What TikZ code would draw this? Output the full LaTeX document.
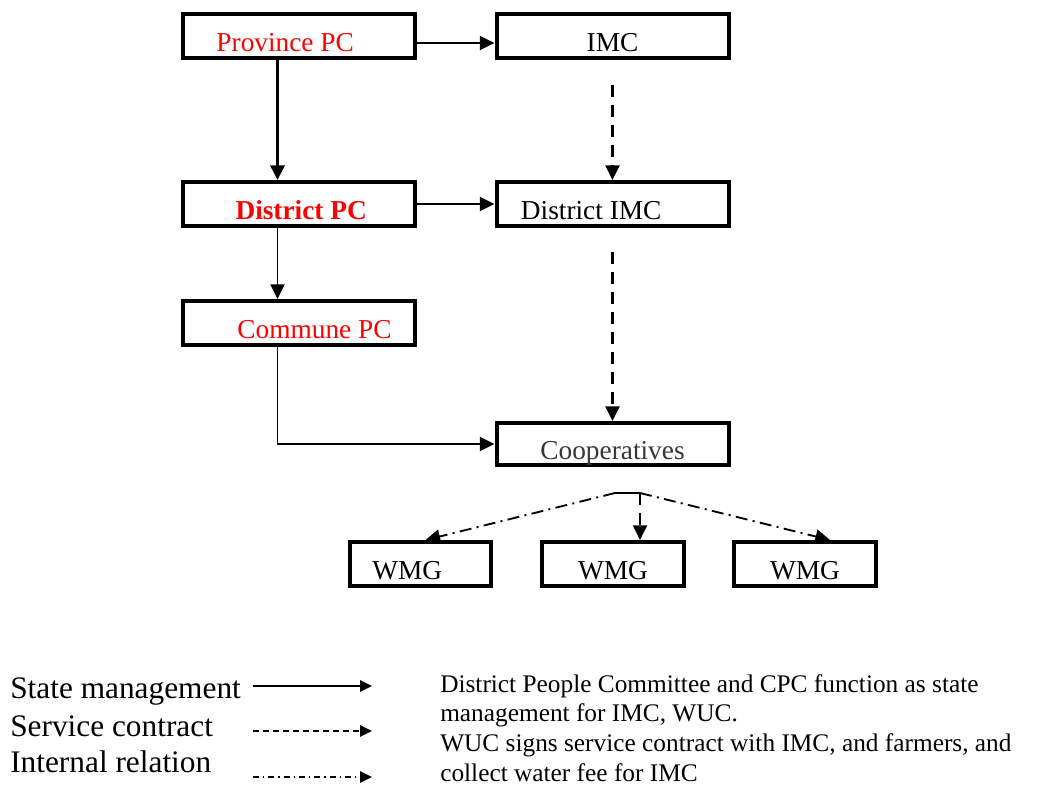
\documentclass[tikz,border=0pt]{standalone}
\usepackage{fontspec}
\setmainfont{Liberation Serif}
\usetikzlibrary{arrows.meta, positioning, calc}
\definecolor{pcred}{RGB}{255,0,0}
\definecolor{coopgray}{RGB}{55,55,55}
\newcommand{\boxfont}{\fontsize{20.5}{22}\selectfont}
\tikzset{
  box/.style={draw, line width=3pt, minimum width=174pt, minimum height=33pt, inner sep=0pt},
  boxtext/.style={inner sep=0pt, text height=23pt, text depth=0pt, font=\boxfont},
  wmgbox/.style={box, minimum width=106pt},
  link/.style={line width=1.4pt, -{Triangle[length=11pt,width=10.5pt]}},
  strong/.style={link, line width=2.8pt},
  contract/.style={link, line width=1.8pt, dash pattern=on 9pt off 6pt},
  internal/.style={link, dash pattern=on 9pt off 4pt on 1.5pt off 4pt},
  keyline/.style={line width=1.2pt, -{Triangle[length=9pt,width=8.5pt]}},
  keytext/.style={anchor=base west, inner sep=0pt, font=\fontsize{23.5}{25}\selectfont},
}

\begin{document}
\begin{tikzpicture}[x=0.75pt, y=-0.75pt]
\useasboundingbox (0,0) rectangle (1045,788);

% Committees (left column)
\node[box, label={[boxtext, text=pcred, xshift=-10pt]center:Province PC}] (prov) at (298.5,36) {};
\node[box, label={[boxtext, text=pcred, xshift=2pt, font=\boxfont\bfseries]center:District PC}] (dist) at (298.5,204) {};
\node[box, label={[boxtext, text=pcred, xshift=12pt]center:Commune PC}] (comm) at (298.5,323) {};

% Irrigation side (right column)
\node[box, label={[boxtext]center:IMC}] (imc) at (612.5,36) {};
\node[box, label={[boxtext, xshift=-16pt]center:District IMC}] (distimc) at (612.5,204) {};
\node[box, minimum height=31.5pt, label={[boxtext, text=coopgray]center:Cooperatives}] (coop) at (612.5,444) {};

% Water management groups
\node[wmgbox, label={[boxtext, xshift=-10pt]center:WMG}] (wmg1) at (420.5,564) {};
\node[wmgbox, label={[boxtext]center:WMG}] (wmg2) at (613,564) {};
\node[wmgbox, label={[boxtext]center:WMG}] (wmg3) at (805,564) {};

% State management
\draw[link] ($(prov.east)+(0,7)$) -- ($(imc.west)+(0,7)$);
\draw[strong] ($(prov.south)+(-21,0)$) -- ($(dist.north)+(-21,0)$);
\draw[link] (dist.east) -- (distimc.west);
\draw[link] ($(dist.south)+(-21,0)$) -- ($(comm.north)+(-21,0)$);
\draw[link] ($(comm.south)+(-21,0)$) |- (coop.west);

% Service contract
\draw[contract] ($(imc.south)+(0,25)$) -- (distimc.north);
\draw[contract] ($(distimc.south)+(0,24)$) -- (coop.north);

% Internal relation
\coordinate (forkL) at ($(coop.south)+(2.5,26)$);
\coordinate (forkR) at ($(forkL)+(25,0)$);
\draw[line width=1.4pt] (forkL) -- (forkR);
\draw[internal] (forkL) -- ($(wmg1.north)+(5,0)$);
\draw[contract] (forkR) -- (forkR |- wmg2.north);
\draw[internal] (forkR) -- ($(wmg3.north)+(25,0)$);

% Legend
\node[keytext] (kstate) at (10,698) {State management};
\node[keytext] (kserv) at (10,736) {Service contract};
\node[keytext] (kint) at (10,772) {Internal relation};
\coordinate (k1a) at (253,686); \coordinate (k1b) at (372,686);
\coordinate (k2a) at (253,731); \coordinate (k2b) at (372,731);
\coordinate (k3a) at (253,777); \coordinate (k3b) at (372,777);
\draw[keyline] (k1a) -- (k1b);
\draw[keyline, dash pattern=on 4.5pt off 3pt] (k2a) -- (k2b);
\draw[keyline, dash pattern=on 4.5pt off 3pt on 1pt off 3pt] (k3a) -- (k3b);

% Explanation
\node[anchor=north west, inner sep=0pt, align=left, font=\fontsize{19}{22.3}\selectfont] (note) at (440,674)
  {District People Committee and CPC function as state\\
   management for IMC, WUC.\\
   WUC signs service contract with IMC, and farmers, and\\
   collect water fee for IMC};
\end{tikzpicture}
\end{document}
